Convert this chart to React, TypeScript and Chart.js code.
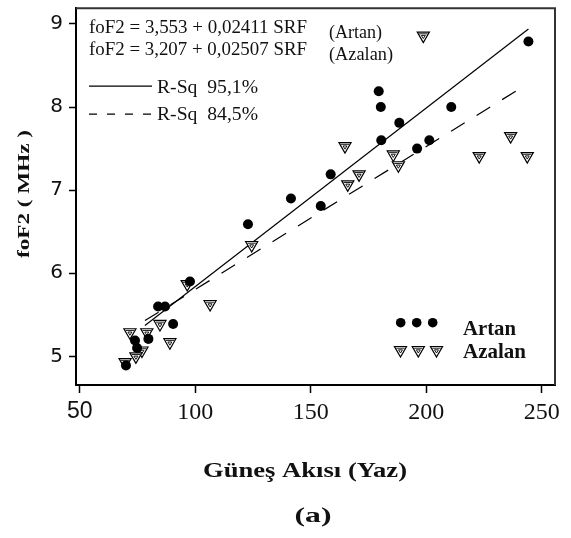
import React, { useEffect, useRef } from "react";
import { Chart, registerables } from "chart.js";

Chart.register(...registerables);

// ---- data ----
const artanX = [244.2, 179.4, 180.3, 210.8, 188.3, 180.5, 201.3, 196.0, 158.6, 141.4, 154.3, 122.8, 97.7, 83.9, 86.9, 90.4, 79.7, 73.9, 74.8, 70.0];
const artanY = [8.79, 8.19, 8.0, 8.0, 7.81, 7.6, 7.6, 7.5, 7.19, 6.9, 6.81, 6.59, 5.9, 5.6, 5.6, 5.39, 5.21, 5.19, 5.1, 4.89];

const azalanX = [198.7, 164.8, 236.5, 222.9, 243.7, 185.7, 187.9, 170.9, 166.0, 124.4, 96.5, 106.4, 84.7, 89.0, 71.7, 79.0, 76.9, 74.3, 69.6];
const azalanY = [8.86, 7.53, 7.65, 7.41, 7.41, 7.43, 7.3, 7.19, 7.07, 6.34, 5.87, 5.63, 5.39, 5.17, 5.29, 5.29, 5.07, 5.0, 4.93];

const artanFitX = [78.2, 244.2];
const artanFitY = [5.37, 8.94];
const azalanFitX = [78.2, 239.8];
const azalanFitY = [5.43, 8.21];

const xTicks = [50, 100, 150, 200, 250];
const yTicks = [5, 6, 7, 8, 9];

const eqLines = ["foF2 = 3,553 + 0,02411 SRF", "foF2 = 3,207 + 0,02507 SRF"];
const rsqLabels = ["R-Sq  95,1%", "R-Sq  84,5%"];
const groupLabels = ["(Artan)", "(Azalan)"];
const seriesNames = ["Artan", "Azalan"];
const xTitle = "Güneş Akısı (Yaz)";
const yTitle = "foF2 ( MHz )";
const panelLabel = "(a)";

const SERIF = '"Liberation Serif", "Times New Roman", serif';

function pts(xs: number[], ys: number[]) {
  return xs.map((x, i) => ({ x, y: ys[i] }));
}

// inner decoration of the downward triangle marker
function drawTriInner(ctx: CanvasRenderingContext2D, x: number, y: number) {
  ctx.save();
  ctx.strokeStyle = "#000";
  ctx.lineWidth = 0.9;
  ctx.beginPath();
  ctx.moveTo(x - 4.2, y - 1.8);
  ctx.lineTo(x + 4.2, y - 1.8);
  ctx.stroke();
  ctx.beginPath();
  ctx.moveTo(x - 2, y - 0.2);
  ctx.lineTo(x + 2, y - 0.2);
  ctx.lineTo(x, y + 3);
  ctx.closePath();
  ctx.stroke();
  ctx.restore();
}

// full triangle (for the legend)
function drawTri(ctx: CanvasRenderingContext2D, x: number, y: number, r: number) {
  ctx.save();
  ctx.fillStyle = "#fff";
  ctx.strokeStyle = "#000";
  ctx.lineWidth = 1.2;
  ctx.beginPath();
  const h = r * Math.sin(Math.PI / 3);
  ctx.moveTo(x - h, y - r / 2);
  ctx.lineTo(x + h, y - r / 2);
  ctx.lineTo(x, y + r);
  ctx.closePath();
  ctx.fill();
  ctx.stroke();
  ctx.restore();
  drawTriInner(ctx, x, y);
}

function drawText(
  ctx: CanvasRenderingContext2D,
  s: string,
  x: number,
  y: number,
  font: string,
  width: number | null,
  align: "left" | "center"
) {
  ctx.save();
  ctx.font = font;
  ctx.textAlign = "left";
  ctx.textBaseline = "alphabetic";
  const w = ctx.measureText(s).width;
  const k = width ? width / w : 1;
  ctx.translate(x, y);
  ctx.scale(k, 1);
  ctx.fillText(s, align === "center" ? -w / 2 : 0, 0);
  ctx.restore();
}

export default function App() {
  const ref = useRef<HTMLCanvasElement | null>(null);

  useEffect(() => {
    if (!ref.current) return;

    const overlay = {
      id: "overlay",
      afterDatasetsDraw(chart: any) {
        const ctx: CanvasRenderingContext2D = chart.ctx;
        const meta = chart.getDatasetMeta(1);
        meta.data.forEach((el: any) => drawTriInner(ctx, el.x, el.y));
      },
      afterDraw(chart: any) {
        const ctx: CanvasRenderingContext2D = chart.ctx;
        const a = chart.chartArea;
        ctx.save();
        // top and right frame
        ctx.strokeStyle = "#333";
        ctx.lineWidth = 2;
        ctx.beginPath();
        ctx.moveTo(a.left, a.top);
        ctx.lineTo(a.right, a.top);
        ctx.lineTo(a.right, a.bottom);
        ctx.stroke();

        ctx.fillStyle = "#111";
        // equations
        drawText(ctx, eqLines[0], a.left + 13, a.top + 25, `18px ${SERIF}`, 218, "left");
        drawText(ctx, eqLines[1], a.left + 13, a.top + 47, `18px ${SERIF}`, 218, "left");
        // R-Sq legend
        ctx.strokeStyle = "#000";
        ctx.lineWidth = 1.2;
        ctx.beginPath();
        ctx.moveTo(a.left + 13, a.top + 78);
        ctx.lineTo(a.left + 76, a.top + 78);
        ctx.stroke();
        ctx.setLineDash([8, 10]);
        ctx.beginPath();
        ctx.moveTo(a.left + 13, a.top + 106);
        ctx.lineTo(a.left + 76, a.top + 106);
        ctx.stroke();
        ctx.setLineDash([]);
        drawText(ctx, rsqLabels[0], a.left + 81, a.top + 85, `18px ${SERIF}`, 101, "left");
        drawText(ctx, rsqLabels[1], a.left + 81, a.top + 112, `18px ${SERIF}`, 101, "left");
        // group labels
        drawText(ctx, groupLabels[0], 329, a.top + 30, `18px ${SERIF}`, 53, "left");
        drawText(ctx, groupLabels[1], 329, a.top + 52, `18px ${SERIF}`, 64, "left");

        // bottom-right legend
        ctx.fillStyle = "#000";
        [400.7, 416.7, 432.7].forEach((x) => {
          ctx.beginPath();
          ctx.arc(x, 322.7, 4.8, 0, Math.PI * 2);
          ctx.fill();
        });
        [400.5, 418.3, 436.5].forEach((x) => drawTri(ctx, x, 350, 7));
        ctx.fillStyle = "#111";
        drawText(ctx, seriesNames[0], 463, 335, `bold 21px ${SERIF}`, 53, "left");
        drawText(ctx, seriesNames[1], 463, 358, `bold 21px ${SERIF}`, 63, "left");

        // axis titles
        drawText(ctx, xTitle, 305, 477, `bold 22px ${SERIF}`, 204, "center");
        drawText(ctx, panelLabel, 313, 522, `bold 22px ${SERIF}`, 37, "center");

        ctx.save();
        ctx.translate(25, 194);
        ctx.rotate(-Math.PI / 2);
        ctx.font = `bold 16px ${SERIF}`;
        ctx.textAlign = "left";
        ctx.textBaseline = "middle";
        const w = ctx.measureText(yTitle).width;
        ctx.scale(128 / w, 1);
        ctx.fillText(yTitle, -w / 2, 0);
        ctx.restore();

        ctx.restore();
      },
    };

    const chart = new Chart(ref.current, {
      type: "scatter",
      data: {
        datasets: [
          {
            label: seriesNames[0],
            data: pts(artanX, artanY),
            pointStyle: "circle",
            pointRadius: 5,
            backgroundColor: "#000",
            borderColor: "#000",
            borderWidth: 0,
          },
          {
            label: seriesNames[1],
            data: pts(azalanX, azalanY),
            pointStyle: "triangle",
            rotation: 180,
            pointRadius: 7,
            backgroundColor: "#fff",
            borderColor: "#000",
            borderWidth: 1.2,
          },
          {
            label: "fitArtan",
            data: pts(artanFitX, artanFitY),
            showLine: true,
            pointRadius: 0,
            borderColor: "#000",
            borderWidth: 1.2,
          },
          {
            label: "fitAzalan",
            data: pts(azalanFitX, azalanFitY),
            showLine: true,
            pointRadius: 0,
            borderColor: "#000",
            borderWidth: 1.2,
            borderDash: [16, 14],
          },
        ] as any,
      },
      options: {
        animation: false,
        responsive: true,
        maintainAspectRatio: false,
        layout: { padding: { left: 0, right: 16, top: 4, bottom: 0 } },
        plugins: {
          legend: { display: false },
          tooltip: { enabled: false },
        },
        scales: {
          x: {
            type: "linear",
            min: 48.36,
            max: 255.7,
            afterFit: (s: any) => {
              s.height = 153;
              s.paddingLeft = 0;
              s.paddingRight = 0;
            },
            afterBuildTicks: (s: any) => {
              s.ticks = xTicks.map((v) => ({ value: v }));
            },
            border: { display: true, color: "#000", width: 2 },
            grid: {
              display: true,
              drawOnChartArea: false,
              drawTicks: true,
              tickLength: 8,
              tickColor: "#000",
              tickWidth: 1.5,
            },
            ticks: {
              autoSkip: false,
              maxRotation: 0,
              padding: 5,
              color: "#111",
              font: (c: any) =>
                c.tick && c.tick.value === 50
                  ? { family: '"Liberation Sans", Arial, sans-serif', size: 23 }
                  : { family: SERIF, size: 24 },
            },
          },
          y: {
            type: "linear",
            min: 4.655,
            max: 9.19,
            afterFit: (s: any) => {
              s.width = 76;
              s.paddingTop = 0;
              s.paddingBottom = 0;
            },
            afterBuildTicks: (s: any) => {
              s.ticks = yTicks.map((v) => ({ value: v }));
            },
            border: { display: true, color: "#000", width: 2 },
            grid: {
              display: true,
              drawOnChartArea: false,
              drawTicks: true,
              tickLength: 7,
              tickColor: "#000",
              tickWidth: 1.5,
            },
            ticks: {
              padding: 6,
              color: "#111",
              font: { family: '"DejaVu Sans", sans-serif', size: 20 },
            },
          },
        },
      } as any,
      plugins: [overlay],
    });

    return () => chart.destroy();
  }, []);

  return (
    <div style={{ position: "absolute", left: 0, top: 0, width: 571, height: 538, background: "#fff" }}>
      <canvas ref={ref} />
    </div>
  );
}
